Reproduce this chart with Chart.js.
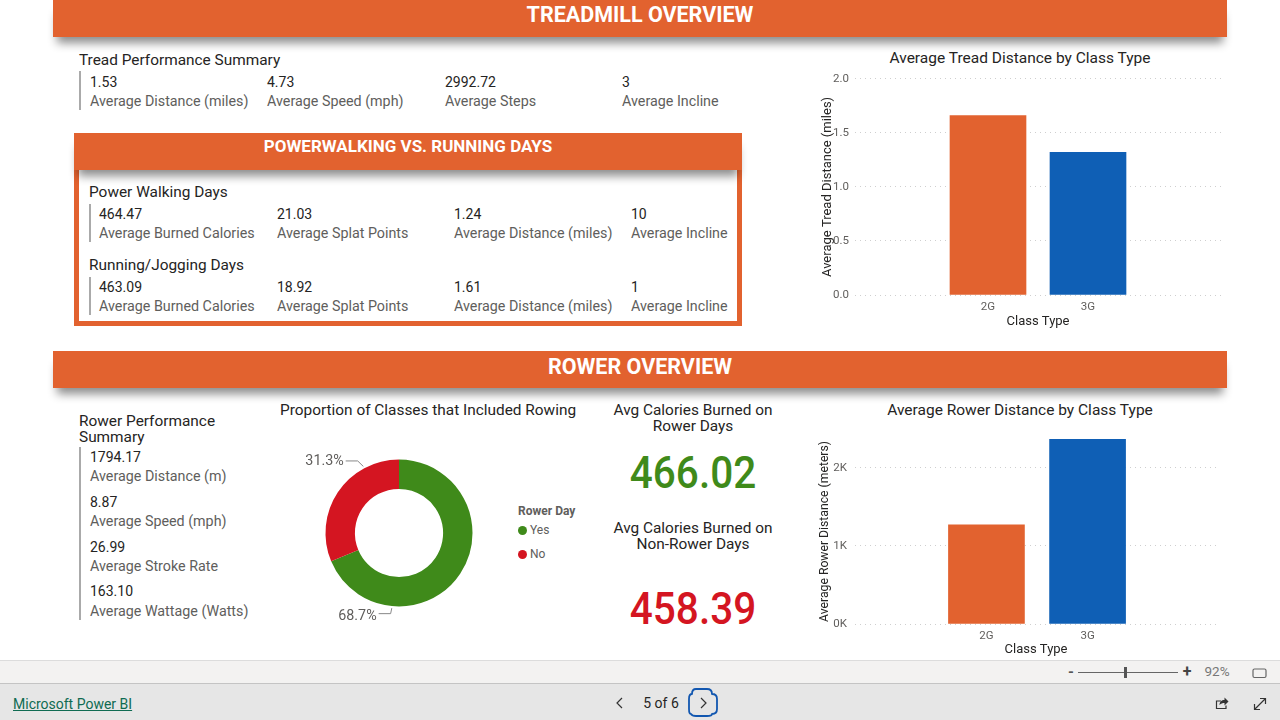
<!DOCTYPE html>
<html>
<head>
<meta charset="utf-8">
<title>Treadmill and Rower Overview</title>
<script src="https://cdn.jsdelivr.net/npm/chart.js@4"></script>
<style>
  html, body { margin: 0; padding: 0; background: #fff; overflow: hidden; }
  #page { position: relative; width: 1280px; height: 720px; overflow: hidden; font-family: Roboto, sans-serif; }
  #page canvas { position: absolute; }
  .t { position: absolute; white-space: nowrap; transform: translateY(-50%); line-height: 1; }
  .c { transform: translate(-50%, -50%); }
  .squeeze { transform: translate(-50%, -50%) scaleX(.9); }
  .box { position: absolute; }
  .band { background: #e2622f; box-shadow: 0 10px 10px -4px rgba(0, 0, 0, .45); }
  svg { position: absolute; }
</style>
</head>
<body>
<div id="page"></div>
<script>
'use strict';

// chart data
let classTypes = ['2G', '3G'];
let treadDistance = [1.66, 1.32];
let treadTicks = [0, 0.5, 1, 1.5, 2];
let rowerDistance = [1270, 2370];
let rowerTicks = [0, 1000, 2000];
let rowerDayLabels = ['Yes', 'No'];
let rowerDayShare = [68.7, 31.3];

// kpi cards
let treadValues = ['1.53', '4.73', '2992.72', '3'];
let treadLabels = ['Average Distance (miles)', 'Average Speed (mph)', 'Average Steps', 'Average Incline'];
let walkValues = ['464.47', '21.03', '1.24', '10'];
let runValues = ['463.09', '18.92', '1.61', '1'];
let dayLabels = ['Average Burned Calories', 'Average Splat Points', 'Average Distance (miles)', 'Average Incline'];
let rowerValues = ['1794.17', '8.87', '26.99', '163.10'];
let rowerLabels = ['Average Distance (m)', 'Average Speed (mph)', 'Average Stroke Rate', 'Average Wattage (Watts)'];
let rowerDayCalories = '466.02';
let nonRowerDayCalories = '458.39';

let orange = '#e2622f';
let blue = '#0f5fb5';
let green = '#3f8a1a';
let red = '#d41521';
let dark = '#252423';
let grey = '#605e5c';

let page = document.getElementById('page');

function addText(str, x, y, size, color, opts) {
  opts = opts || {};
  let el = document.createElement('div');
  el.className = opts.squeeze ? 't squeeze' : (opts.center ? 't c' : 't');
  el.textContent = str;
  el.style.left = x + 'px';
  el.style.top = y + 'px';
  el.style.fontSize = size + 'px';
  el.style.color = color;
  if (opts.weight) el.style.fontWeight = opts.weight;
  if (opts.underline) el.style.textDecoration = 'underline';
  page.appendChild(el);
}

function addBox(x, y, w, h, css, className) {
  let el = document.createElement('div');
  el.className = className || 'box';
  el.style.position = 'absolute';
  el.style.left = x + 'px';
  el.style.top = y + 'px';
  el.style.width = w + 'px';
  el.style.height = h + 'px';
  if (css) el.style.cssText += css;
  page.appendChild(el);
}

function addKpiRow(values, labels, xs, yValue, yLabel) {
  for (let i = 0; i < values.length; i++) {
    addText(values[i], xs[i], yValue, 14, dark);
    addText(labels[i], xs[i], yLabel, 14.3, grey);
  }
}

function addCanvas(x, y, w, h) {
  let canvas = document.createElement('canvas');
  canvas.width = w;
  canvas.height = h;
  canvas.style.left = x + 'px';
  canvas.style.top = y + 'px';
  canvas.style.width = w + 'px';
  canvas.style.height = h + 'px';
  page.appendChild(canvas);
  return canvas.getContext('2d');
}

// header bands
addBox(53, 0, 1174, 37, null, 'box band');
addText('TREADMILL OVERVIEW', 640, 15, 21.5, '#fff', { center: true, weight: 700 });
addBox(53, 351, 1174, 37, null, 'box band');
addText('ROWER OVERVIEW', 640, 367, 21.5, '#fff', { center: true, weight: 700 });

// treadmill summary
addText('Tread Performance Summary', 79, 61, 15.4, dark);
addBox(79, 71, 2, 39, 'background:#aaa');
addKpiRow(treadValues, treadLabels, [90, 267, 445, 622], 82, 101);

// powerwalking panel
addBox(74, 170, 668, 156, `box-sizing:border-box;border:5px solid ${orange};border-top:0`);
addBox(74, 133, 668, 37, null, 'box band');
addText('POWERWALKING VS. RUNNING DAYS', 408, 146, 17, '#fff', { center: true, weight: 700 });
addText('Power Walking Days', 89, 193, 15.4, dark);
addBox(89, 204, 2, 38, 'background:#aaa');
addKpiRow(walkValues, dayLabels, [99, 277, 454, 631], 214, 233);
addText('Running/Jogging Days', 89, 266, 15.4, dark);
addBox(89, 277, 2, 38, 'background:#aaa');
addKpiRow(runValues, dayLabels, [99, 277, 454, 631], 287, 306);

// rower summary
addText('Rower Performance', 79, 422, 15.4, dark);
addText('Summary', 79, 438, 15.4, dark);
addBox(79, 447, 2, 173, 'background:#aaa');
let rowerValueY = [457, 502, 547, 591];
let rowerLabelY = [476, 521, 566, 611];
for (let i = 0; i < rowerValues.length; i++) {
  addText(rowerValues[i], 90, rowerValueY[i], 14, dark);
  addText(rowerLabels[i], 90, rowerLabelY[i], 14.3, grey);
}

// titles and big numbers
addText('Proportion of Classes that Included Rowing', 428, 411, 15.4, dark, { center: true });
addText('Avg Calories Burned on', 693, 411, 15.4, dark, { center: true });
addText('Rower Days', 693, 427, 15.4, dark, { center: true });
addText(rowerDayCalories, 693, 472, 45, green, { squeeze: true, weight: 500 });
addText('Avg Calories Burned on', 693, 529, 15.4, dark, { center: true });
addText('Non-Rower Days', 693, 545, 15.4, dark, { center: true });
addText(nonRowerDayCalories, 693, 608, 45, red, { squeeze: true, weight: 500 });
addText('Average Tread Distance by Class Type', 1020, 59, 15.5, dark, { center: true });
addText('Average Rower Distance by Class Type', 1020, 411, 15.5, dark, { center: true });

// doughnut legend
addText('Rower Day', 518, 511, 12, grey, { weight: 700 });
let legendY = [530, 554];
let sliceColors = [green, red];
for (let i = 0; i < rowerDayLabels.length; i++) {
  addBox(518, legendY[i] - 4, 9, 9, `background:${sliceColors[i]};border-radius:50%`);
  addText(rowerDayLabels[i], 530, legendY[i], 12, grey);
}

// bar charts: a linear x axis lets the two bars sit in the middle of the plot
function barConfig(values, yTitle, yTicks, yMax, tickLabel, layoutBox) {
  return {
    type: 'bar',
    data: {
      datasets: [{
        data: classTypes.map((c, i) => ({ x: i, y: values[i] })),
        backgroundColor: [orange, blue],
        barThickness: 76
      }]
    },
    options: {
      responsive: false,
      animation: false,
      layout: { padding: { top: layoutBox.top, right: 8, left: 0, bottom: 0 } },
      plugins: { legend: { display: false }, tooltip: { enabled: false } },
      scales: {
        x: {
          type: 'linear',
          offset: false,
          min: layoutBox.xMin,
          max: layoutBox.xMax,
          grid: { display: false, tickLength: 0 },
          border: { display: false },
          afterBuildTicks: (scale) => { scale.ticks = classTypes.map((c, i) => ({ value: i })); },
          afterFit: (scale) => { scale.height = layoutBox.bottom; },
          ticks: {
            padding: 5,
            maxRotation: 0,
            font: { family: 'Roboto', size: 11.5 },
            color: grey,
            callback: (v) => classTypes[v]
          },
          title: {
            display: true,
            text: 'Class Type',
            color: dark,
            padding: { top: 2, bottom: 0 },
            font: { family: 'Roboto', size: 13 }
          }
        },
        y: {
          min: 0,
          max: yMax,
          grid: { color: '#cfcfcf', tickLength: 0, lineWidth: 1 },
          border: { display: false, dash: [1, 4] },
          afterBuildTicks: (scale) => { scale.ticks = yTicks.map((v) => ({ value: v })); },
          afterFit: (scale) => { scale.width = layoutBox.left; },
          ticks: {
            padding: layoutBox.tickPad,
            font: { family: 'Roboto', size: 11.5 },
            color: grey,
            callback: tickLabel
          },
          title: {
            display: true,
            text: yTitle,
            color: dark,
            padding: { top: 0, bottom: 0 },
            font: { family: 'Roboto', size: layoutBox.titleSize }
          }
        }
      }
    }
  };
}

new Chart(addCanvas(820, 66, 409, 264), barConfig(treadDistance, 'Average Tread Distance (miles)', treadTicks, 2,
  (v) => v.toFixed(1), { top: 8, left: 35, bottom: 35, xMin: -1.33, xMax: 2.33, tickPad: 6, titleSize: 13 }));

new Chart(addCanvas(818, 424, 407, 234), barConfig(rowerDistance, 'Average Rower Distance (meters)', rowerTicks, 2372,
  (v) => (v / 1000) + 'K', { top: 8, left: 37, bottom: 34, xMin: -1.3, xMax: 2.28, tickPad: 8, titleSize: 12.2 }));

// leader lines for the doughnut, taken from the arcs themselves
let sliceLeaders = {
  id: 'sliceLeaders',
  afterDraw(chart) {
    let ctx = chart.ctx;
    let arcs = chart.getDatasetMeta(0).data;
    ctx.save();
    ctx.strokeStyle = '#888';
    ctx.lineWidth = 1;
    ctx.fillStyle = grey;
    ctx.font = '14.3px Roboto';
    ctx.textAlign = 'right';
    ctx.textBaseline = 'middle';
    arcs.forEach((arc, i) => {
      let angle = arc.startAngle + (arc.endAngle - arc.startAngle) * 0.75;
      let x1 = arc.x + Math.cos(angle) * (arc.outerRadius + 2);
      let y1 = arc.y + Math.sin(angle) * (arc.outerRadius + 2);
      let down = Math.sin(angle) > 0 ? 1 : -1;
      let x2 = x1 + Math.cos(angle) * 12;
      let y2 = y1 + down * 5.5;
      ctx.beginPath();
      ctx.moveTo(x1, y1);
      ctx.lineTo(x2, y2);
      ctx.lineTo(x2 - 12, y2);
      ctx.stroke();
      ctx.fillText(rowerDayShare[i].toFixed(1) + '%', x2 - 14, y2 + 1.5 + down);
    });
    ctx.restore();
  }
};

new Chart(addCanvas(289, 438, 220, 190), {
  type: 'doughnut',
  data: {
    labels: rowerDayLabels,
    datasets: [{ data: rowerDayShare, backgroundColor: sliceColors, borderWidth: 0 }]
  },
  options: {
    responsive: false,
    animation: false,
    cutout: '60%',
    layout: { padding: 21.5 },
    plugins: { legend: { display: false }, tooltip: { enabled: false } }
  },
  plugins: [sliceLeaders]
});

// viewer chrome
addBox(0, 660, 1280, 23, 'background:#f3f2f1;border-top:1px solid #dcdcdc;box-sizing:border-box');
addBox(0, 683, 1280, 37, 'background:#e6e6e6;border-top:1px solid #c4c4c4;box-sizing:border-box');
addText('Microsoft Power BI', 13, 704, 14, '#0f6b52', { underline: true });
addText('5 of 6', 661, 703, 14, '#252423', { center: true });
addText('92%', 1217, 672, 13.5, '#777', { center: true });
addText('-', 1071, 672, 15, '#555', { center: true, weight: 700 });
addText('+', 1187, 672, 16, '#444', { center: true, weight: 700 });
addBox(1078, 672, 100, 1, 'background:#666');
addBox(1124, 667, 3, 11, 'background:#555');

let icons = document.createElementNS('http://www.w3.org/2000/svg', 'svg');
icons.setAttribute('width', 1280);
icons.setAttribute('height', 720);
icons.style.left = '0';
icons.style.top = '0';
icons.innerHTML = `
  <g fill="none" stroke="#333" stroke-width="1.2">
    <path d="M622 698l-5 5 5 5"/>
    <path d="M701 698l5 5-5 5"/>
    <rect x="1253" y="669" width="13" height="8.5" rx="1.5" stroke="#666"/>
    <path d="M1221 701h-4.5v7.5h9.5v-3"/>
    <path d="M1219.5 705c0-3 2-5 5-5v-2.5l4 4-4 4v-2.5c-2 0-3.5 .5-5 2z" fill="#333" stroke="none"/>
    <path d="M1254.5 709.5l11-11M1260 698.5h5.500v5.500M1254.500 704v5.500h5.500"/>
  </g>
  <path d="M696 689h11q5 0 5 5q5 0 5 5v10q0 5-5 5q0 2-5 2h-11q-4 0-5-2q-2 0-2-5v-10q0-5 3-5q0-5 4-5z" fill="none" stroke="#1257b0" stroke-width="1.8" stroke-linejoin="round"/>`;
page.appendChild(icons);
</script>
</body>
</html>
